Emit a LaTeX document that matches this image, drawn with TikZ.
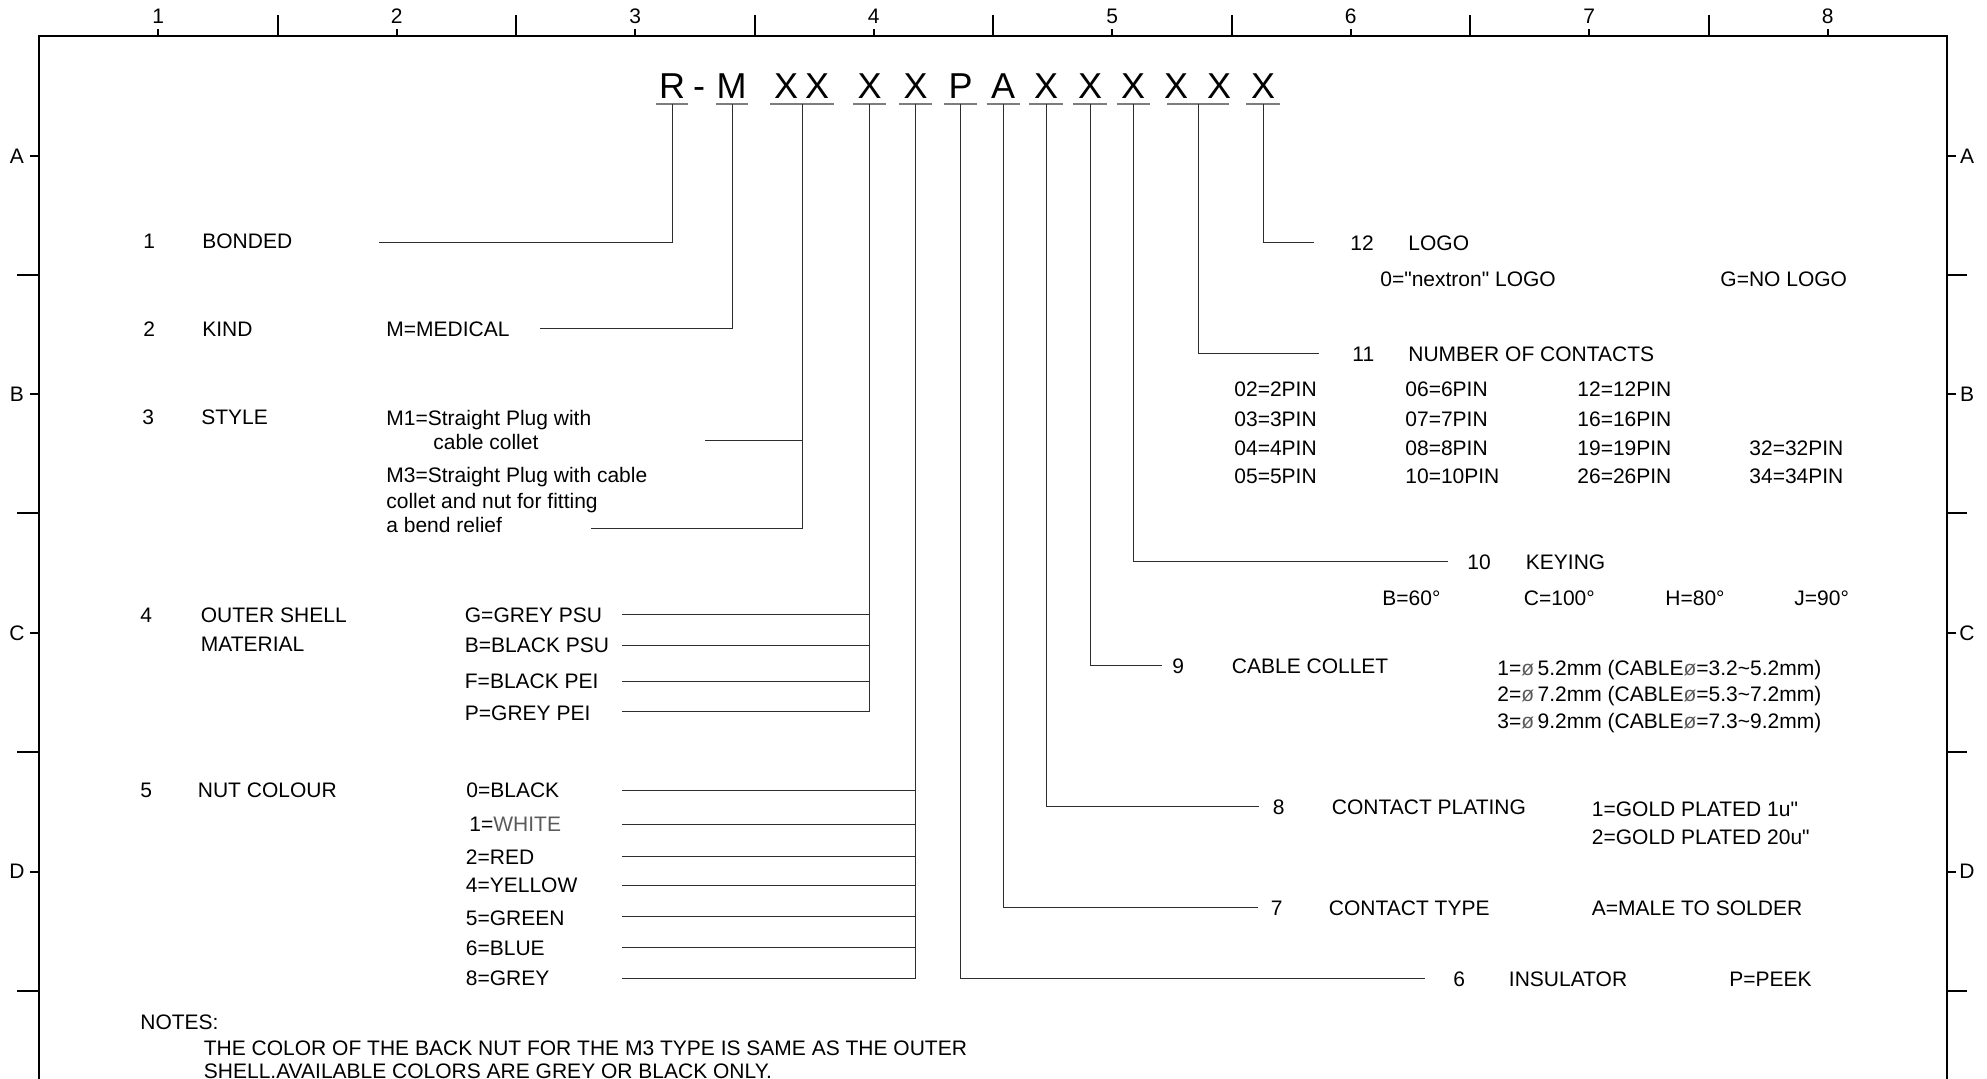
\documentclass[tikz,border=0pt]{standalone}
\usepackage{fontspec}
\setmainfont{Liberation Sans}[Ligatures=TeXOff]
\usepackage{xcolor}
\usepackage{tikz}
\definecolor{leadgray}{RGB}{45,45,45}
\definecolor{ulgray}{RGB}{125,125,125}
\definecolor{cadgray}{RGB}{90,90,90}

\begin{document}
\begin{tikzpicture}[x=0.5pt, y=-0.5pt,
        every node/.style={inner sep=0pt, font=\fontsize{10.5}{12.6}\selectfont},
        txt/.style={anchor=base west},
        code/.style={anchor=base, font=\fontsize{18}{21}\selectfont},
        frame/.style={line width=1pt},
        lead/.style={line width=0.5pt, leadgray},
        uline/.style={line width=0.8pt, ulgray}]
    \useasboundingbox (0,0) rectangle (1987,1079);

    % drawing frame with zone marks
    \draw[frame] (39,1079) -- (39,35.7) -- (1947,35.7) -- (1947,1079);
    \foreach \k in {1,...,8} {
        \draw[frame] ({39+(\k-0.5)*238.5},29) -- ({39+(\k-0.5)*238.5},35.7);
        \node[anchor=base] (col\k) at ({39+(\k-0.5)*238.5},23.5) {\k};
    }
    \foreach \k in {1,...,7}
        \draw[frame] ({39+\k*238.5},15) -- ({39+\k*238.5},35.7);
    \foreach \r [count=\i from 0] in {A,B,C,D} {
        \draw[frame] (30,{156+\i*238.5}) -- (39,{156+\i*238.5});
        \draw[frame] (1947,{156+\i*238.5}) -- (1956,{156+\i*238.5});
        \draw[frame] (17,{275+\i*238.5}) -- (39,{275+\i*238.5});
        \draw[frame] (1947,{275+\i*238.5}) -- (1967,{275+\i*238.5});
        \node (rowl\r) at (17,{156+\i*238.5}) {\r};
        \node (rowr\r) at (1967,{156+\i*238.5}) {\r};
    }

    % part number
    \foreach \x/\c [count=\i] in {672/R,699/-,731.5/M,786/X,817/X,869.5/X,915.5/X,960.5/P,1003/A,1046/X,1090/X,1133/X,1176/X,1219/X,1263/X}
        \node[code] (code\i) at (\x,99) {\c};
    \foreach \n/\x/\w in {1/672/16,2/732/16,3/802/32,4/869.5/16.5,5/915.5/16.5,6/960.5/16.5,7/1003/16.5,8/1046/17,9/1090/17,10/1133/16.5,11/1198/31,12/1263/17} {
        \coordinate (g\n) at (\x,104);
        \draw[uline] ({\x-\w},104) -- ({\x+\w},104);
    }

    % leader ends
    \coordinate (e1) at (379,242.5);
    \coordinate (e2) at (540,329);
    \coordinate (e3a) at (704.5,441);
    \coordinate (e3b) at (591,529);
    \coordinate (e6) at (1425,978);
    \coordinate (e7) at (1258,907.5);
    \coordinate (e8) at (1259,806.5);
    \coordinate (e9) at (1162,666);
    \coordinate (e10) at (1448,561.5);
    \coordinate (e11) at (1319,354);
    \coordinate (e12) at (1314,242.5);

    \draw[lead] (g1) |- (e1);
    \draw[lead] (g2) |- (e2);
    \draw[lead] (g3) |- (e3a);
    \draw[lead] (g3) |- (e3b);
    \foreach \y [count=\i] in {615,646,682,712} {
        \coordinate (e4\i) at (622,\y);
        \draw[lead] (g4) |- (e4\i);
    }
    \foreach \y [count=\i] in {790,824,856.5,885,916.5,947.5,978} {
        \coordinate (e5\i) at (622,\y);
        \draw[lead] (g5) |- (e5\i);
    }
    \foreach \n in {6,...,12}
        \draw[lead] (g\n) |- (e\n);

    % left side
    \foreach \n/\xa/\xb/\y/\t in {1/143/202/248.5/BONDED,2/143/202/336.5/KIND,3/142/201/424.5/STYLE,4/140/200.5/622.5/OUTER SHELL,5/140/197.5/797.5/NUT COLOUR} {
        \node[txt] (num\n) at (\xa,\y) {\n};
        \node[txt] (item\n) at (\xb,\y) {\t};
    }
    \node[txt] (item4b) at (200.5,652) {MATERIAL};
    \node[txt] (kind) at (386,336.5) {M=MEDICAL};
    \node[txt] (m1a) at (386,425.5) {M1=Straight Plug with};
    \node[txt] (m1b) at (433,449.5) {cable collet};
    \node[txt] (m3a) at (386,482.5) {M3=Straight Plug with cable};
    \node[txt] (m3b) at (386,509) {collet and nut for fitting};
    \node[txt] (m3c) at (386,532.5) {a bend relief};
    \foreach \y/\t [count=\i] in {622.5/G=GREY PSU,652.5/B=BLACK PSU,689/F=BLACK PEI,720.5/P=GREY PEI}
        \node[txt] (shell\i) at (464.5,\y) {\t};
    \foreach \x/\y/\t [count=\i] in {466/797.5/0=BLACK,469/831.5/1=\textcolor{cadgray}{WHITE},465.5/864/2=RED,465.5/892.5/4=YELLOW,465.5/925/5=GREEN,465.5/955.5/6=BLUE,465.5/985.5/8=GREY}
        \node[txt] (nut\i) at (\x,\y) {\t};

    % right side
    \foreach \n/\xa/\xb/\y/\t in {12/1350/1408/250.5/LOGO,11/1352/1408/361.5/NUMBER OF CONTACTS,10/1467/1525.5/569.5/KEYING,9/1172/1231.5/673.5/CABLE COLLET,8/1272.5/1331.5/814.5/CONTACT PLATING,7/1270.5/1328.5/915.5/CONTACT TYPE,6/1453/1508.5/986.5/INSULATOR} {
        \node[txt] (num\n) at (\xa,\y) {\n};
        \node[txt] (item\n) at (\xb,\y) {\t};
    }
    \node[txt] (logo0) at (1380,286.5) {0="nextron" LOGO};
    \node[txt] (logoG) at (1720,286.5) {G=NO LOGO};
    \foreach \x/\y/\t [count=\i] in {1234/396.5/02=2PIN,1405/396.5/06=6PIN,1577/396.5/12=12PIN,
            1234/426.5/03=3PIN,1405/426.5/07=7PIN,1577/426.5/16=16PIN,
            1234/455.5/04=4PIN,1405/455.5/08=8PIN,1577/455.5/19=19PIN,1749/455.5/32=32PIN,
            1234/483.5/05=5PIN,1405/483.5/10=10PIN,1577/483.5/26=26PIN,1749/483.5/34=34PIN}
        \node[txt] (pin\i) at (\x,\y) {\t};
    \foreach \x/\t [count=\i] in {1382/B=60°,1523.5/C=100°,1665/H=80°,1794/J=90°}
        \node[txt] (key\i) at (\x,605.5) {\t};
    \foreach \y/\da/\lo/\hi [count=\i] in {675.5/5.2/3.2/5.2,701.5/7.2/5.3/7.2,728.5/9.2/7.3/9.2}
        \node[txt] (collet\i) at (1497,\y) {\i=\textcolor{cadgray}{ø}\,\da mm (CABLE\textcolor{cadgray}{ø}=\lo\textasciitilde\hi mm)};
    \node[txt] (plate1) at (1591.5,816.5) {1=GOLD PLATED 1u"};
    \node[txt] (plate2) at (1591.5,844) {2=GOLD PLATED 20u"};
    \node[txt] (contact) at (1591.5,915.5) {A=MALE TO SOLDER};
    \node[txt] (peek) at (1729,986.5) {P=PEEK};

    % notes
    \node[txt] (notes) at (140,1029) {NOTES:};
    \node[txt] (note1) at (203.5,1055) {THE COLOR OF THE BACK NUT FOR THE M3 TYPE IS SAME AS THE OUTER};
    \node[txt] (note2) at (203.5,1078) {SHELL.AVAILABLE COLORS ARE GREY OR BLACK ONLY.};
\end{tikzpicture}
\end{document}
